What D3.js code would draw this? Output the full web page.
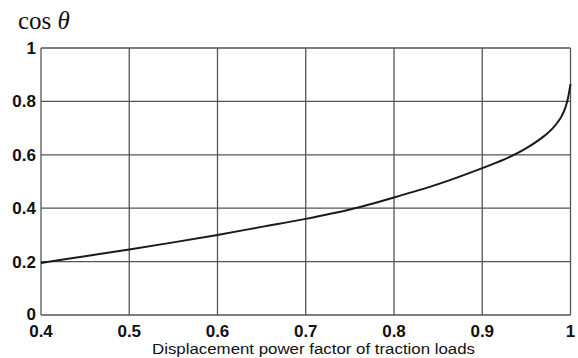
<!DOCTYPE html>
<html><head><meta charset="utf-8">
<script src="https://cdn.jsdelivr.net/npm/d3@7"></script>
<style>body{margin:0;background:#fff}svg{display:block}</style>
</head><body>
<script>
const xValues = [0.4, 0.45, 0.5, 0.55, 0.6, 0.65, 0.7, 0.75, 0.8, 0.85, 0.9, 0.93, 0.95, 0.97, 0.98, 0.985, 0.99, 0.994, 0.997, 1.0];
const yValues = [0.195, 0.22, 0.245, 0.272, 0.30, 0.33, 0.36, 0.395, 0.44, 0.49, 0.55, 0.59, 0.625, 0.67, 0.70, 0.72, 0.745, 0.775, 0.81, 0.865];
const xTicks = [0.4, 0.5, 0.6, 0.7, 0.8, 0.9, 1];
const yTicks = [0, 0.2, 0.4, 0.6, 0.8, 1];
const xTickLabels = ["0.4","0.5","0.6","0.7","0.8","0.9","1"];
const yTickLabels = ["0","0.2","0.4","0.6","0.8","1"];
const xTitle = "Displacement power factor of traction loads";

const W = 578, H = 358;
const L = 41, R = 570.5, T = 48, B = 315;
const svg = d3.select("body").append("svg").attr("width", W).attr("height", H);
const x = d3.scaleLinear().domain([0.4, 1]).range([L, R]);
const y = d3.scaleLinear().domain([0, 1]).range([B, T]);

const grid = svg.append("g").attr("stroke", "#555").attr("stroke-width", 1.3).attr("fill", "none");
grid.selectAll(".vx").data(xTicks).join("line")
  .attr("x1", d => x(d)).attr("x2", d => x(d)).attr("y1", T).attr("y2", B);
grid.selectAll(".hy").data(yTicks).join("line")
  .attr("y1", d => y(d)).attr("y2", d => y(d)).attr("x1", L).attr("x2", R);

const pts = xValues.map((v, i) => [v, yValues[i]]);
svg.append("path").datum(pts)
  .attr("fill", "none").attr("stroke", "#1a1a1a").attr("stroke-width", 2)
  .attr("d", d3.line().x(d => x(d[0])).y(d => y(d[1])).curve(d3.curveMonotoneX));

const font = "Liberation Sans, Arial, Helvetica, sans-serif";
svg.selectAll(".xl").data(xTicks).join("text")
  .attr("x", d => x(d)).attr("y", B + 22)
  .attr("text-anchor", "middle").attr("font-family", font).attr("font-weight", "bold")
  .attr("font-size", 17).attr("fill", "#111")
  .text((d, i) => xTickLabels[i]);
svg.selectAll(".yl").data(yTicks).join("text")
  .attr("x", 36).attr("y", d => d === 0 ? y(d) + 5 : y(d) + 6)
  .attr("text-anchor", "end").attr("font-family", font).attr("font-weight", "bold")
  .attr("font-size", 17).attr("fill", "#111")
  .text((d, i) => yTickLabels[i]);

svg.append("text").attr("x", 152).attr("y", 354)
  .attr("font-family", font).attr("textLength", 323).attr("lengthAdjust", "spacingAndGlyphs")
  .attr("font-size", 15.5).attr("fill", "#111").text(xTitle);

const ttl = svg.append("text").attr("x", 18).attr("y", 29)
  .attr("font-family", "Liberation Serif, Times New Roman, serif").attr("font-size", 25).attr("fill", "#111");
ttl.append("tspan").text("cos ");
ttl.append("tspan").attr("font-style", "italic").text("θ");
</script>
</body></html>
